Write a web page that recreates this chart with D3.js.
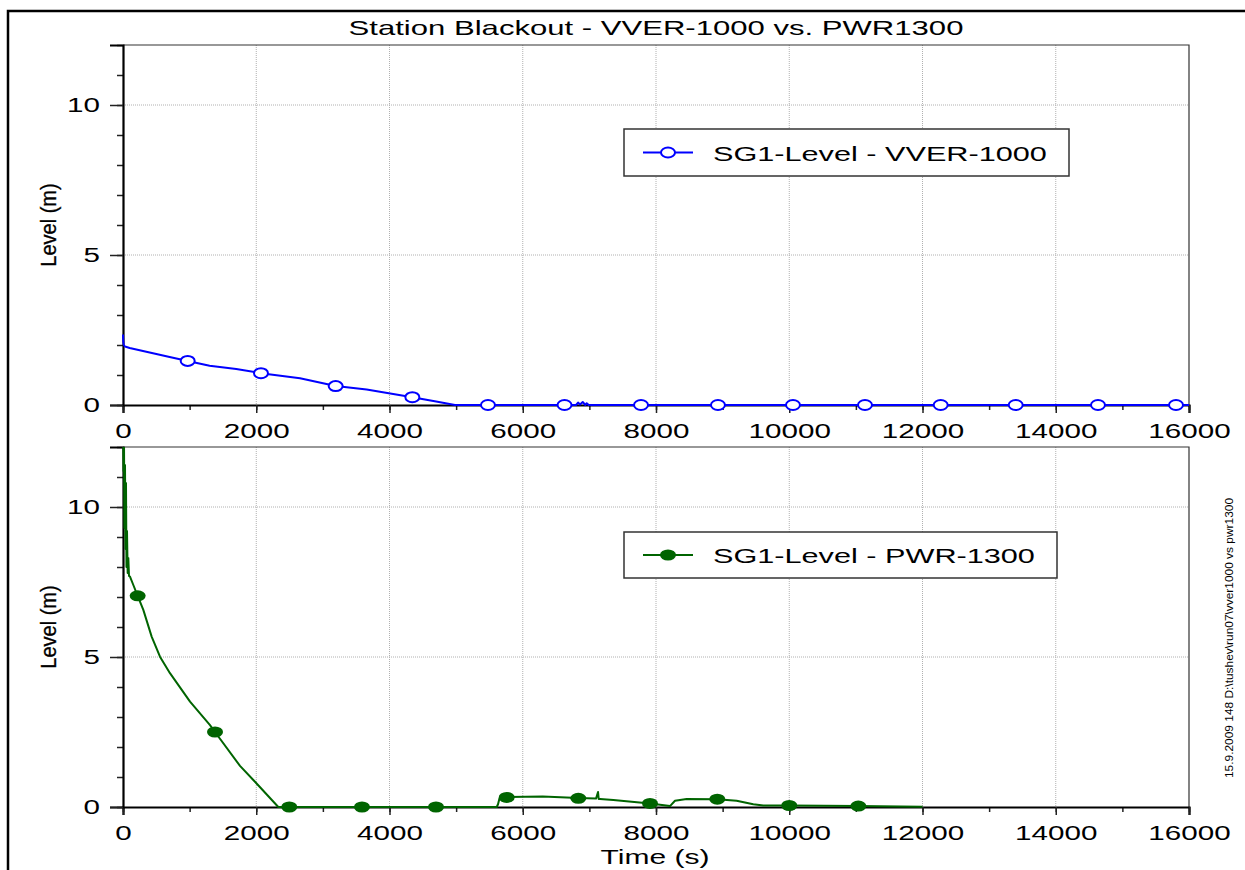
<!DOCTYPE html>
<html>
<head>
<meta charset="utf-8">
<script src="https://cdn.jsdelivr.net/npm/d3@7"></script>
<style>
  html, body { margin: 0; padding: 0; background: #fff; }
  svg { display: block; }
</style>
</head>
<body>
<svg id="chart" width="1245" height="870"></svg>
<script>
// ---- data -------------------------------------------------------------
const titleText = "Station Blackout - VVER-1000 vs. PWR1300";
const xTicksMajor = [0, 2000, 4000, 6000, 8000, 10000, 12000, 14000, 16000];
const yTicksMajor = [0, 5, 10];
const xLabel = "Time (s)";
const yLabel = "Level (m)";
const stampText = "15.9.2009   148   D:\\tushev\\run07\\vver1000 vs pwr1300";

// SG1 level, VVER-1000
const vverName = "SG1-Level - VVER-1000";
const vverTime  = [0, 5, 12, 30, 100, 400, 700, 971, 1300, 1700, 2071, 2657, 3192, 3657, 4343, 4700, 4983,
                   6800, 6830, 6860, 6900, 6940, 6960, 6990, 16000];
const vverLevel = [2.35, 2.1, 2.0, 1.95, 1.9, 1.75, 1.6, 1.47, 1.31, 1.2, 1.06, 0.89, 0.63, 0.52, 0.26, 0.12, 0,
                   0, 0.08, 0.02, 0.1, 0, 0.06, 0, 0];
const vverMarkTime  = [971, 2071, 3192, 4343, 5478, 6627, 7775, 8930, 10056, 11137, 12273, 13399, 14634, 15805];
const vverMarkLevel = [1.47, 1.06, 0.63, 0.26, 0, 0, 0, 0, 0, 0, 0, 0, 0, 0];

// SG1 level, PWR-1300
const pwrName = "SG1-Level - PWR-1300";
const pwrTime  = [0, 8, 15, 22, 30, 38, 45, 52, 60, 70, 80, 90, 105, 155, 220, 305, 430, 555, 705, 1006, 1306,
                  1381, 1756, 1981, 2331, 5610, 5630, 5650, 5700, 5759, 6300, 6834, 7100, 7130, 7140, 7160, 7360,
                  7910, 8210, 8285, 8460, 8920, 9210, 9460, 9610, 10000, 11037, 12000];
const pwrLevel = [12.6, 11.2, 12.2, 9.3, 11.4, 8.6, 10.8, 8.0, 9.2, 7.8, 8.3, 7.7, 7.68, 7.4, 7.04, 6.57, 5.68, 5.01, 4.46, 3.51, 2.73,
                  2.5, 1.37, 0.84, 0, 0, 0.1, 0.28, 0.32, 0.33, 0.35, 0.30, 0.28, 0.5, 0.27, 0.27, 0.23,
                  0.12, 0.03, 0.21, 0.27, 0.26, 0.21, 0.09, 0.05, 0.05, 0.03, 0.01];
const pwrMarkTime  = [220, 1381, 2496, 3587, 4698, 5759, 6834, 7910, 8920, 10000, 11037];
const pwrMarkLevel = [7.04, 2.5, 0, 0, 0, 0.32, 0.29, 0.12, 0.26, 0.05, 0.03];

// ---- layout / style ---------------------------------------------------
const FONT = "'Liberation Sans', Arial, Helvetica, sans-serif";
const WIDE = 1.48;          // horizontal stretch of the plotter's wide typeface
const X0 = 123, X1 = 1189;
const BLUE = "#0000ff", GREEN = "#006400";

const svg = d3.select("#chart");

// outer frame
svg.append("rect")
  .attr("x", 8).attr("y", 11).attr("width", 1300).attr("height", 900)
  .attr("fill", "none").attr("stroke", "#000").attr("stroke-width", 2.5);

function wideText(parent, x, y, str, size, sx, anchor) {
  return parent.append("text")
    .attr("transform", `translate(${x},${y}) scale(${sx},1)`)
    .attr("text-anchor", anchor || "middle")
    .attr("font-family", FONT)
    .attr("font-size", size)
    .attr("fill", "#000")
    .text(str);
}

// title
wideText(svg, 656, 35, titleText, 21, WIDE, "middle");

const x = d3.scaleLinear().domain([0, 16000]).range([X0, X1]);

function panel(top, bottom, id, time, level, markT, markL, color, filled, name, legendBox) {
  const y = d3.scaleLinear().domain([0, 12]).range([bottom, top]);
  const g = svg.append("g");

  // dotted grid
  g.append("g").selectAll("line").data(xTicksMajor.slice(1, -1)).join("line")
    .attr("x1", d => x(d)).attr("x2", d => x(d))
    .attr("y1", top).attr("y2", bottom)
    .attr("stroke", "#b0b0b0").attr("stroke-width", 1).attr("stroke-dasharray", "1,1");
  g.append("g").selectAll("line").data(yTicksMajor.slice(1)).join("line")
    .attr("x1", X0).attr("x2", X1)
    .attr("y1", d => y(d)).attr("y2", d => y(d))
    .attr("stroke", "#b0b0b0").attr("stroke-width", 1).attr("stroke-dasharray", "1,1");

  // thin top / right border
  g.append("path")
    .attr("d", `M${X0},${top}H${X1}V${bottom}`)
    .attr("fill", "none").attr("stroke", "#333").attr("stroke-width", 1.2);

  // minor ticks
  g.append("g").attr("transform", `translate(0,${bottom})`)
    .call(d3.axisBottom(x).tickValues(d3.range(0, 16001, 1000)).tickSize(5).tickFormat(""))
    .call(a => a.select(".domain").remove())
    .call(a => a.selectAll("line").attr("stroke", "#222").attr("stroke-width", 1.5));
  g.append("g").attr("transform", `translate(${X0},0)`)
    .call(d3.axisLeft(y).tickValues(d3.range(0, 13, 1)).tickSize(6).tickFormat(""))
    .call(a => a.select(".domain").remove())
    .call(a => a.selectAll("line").attr("stroke", "#222").attr("stroke-width", 1.5));

  // major x axis
  g.append("g").attr("transform", `translate(0,${bottom})`)
    .call(d3.axisBottom(x).tickValues(xTicksMajor).tickSize(8).tickPadding(11).tickFormat(d3.format("d")))
    .call(a => a.select(".domain").attr("stroke", "#000").attr("stroke-width", 2.2))
    .call(a => a.selectAll("line").attr("stroke", "#222").attr("stroke-width", 1.5))
    .call(a => a.selectAll("text")
      .attr("font-family", FONT).attr("font-size", 20).attr("fill", "#000")
      .attr("transform", `scale(${WIDE},1)`));

  // major y axis
  g.append("g").attr("transform", `translate(${X0},0)`)
    .call(d3.axisLeft(y).tickValues(yTicksMajor).tickSize(13).tickPadding(10).tickFormat(d3.format("d")))
    .call(a => a.select(".domain").attr("stroke", "#000").attr("stroke-width", 2.2))
    .call(a => a.selectAll("line").attr("stroke", "#222").attr("stroke-width", 1.5))
    .call(a => a.selectAll("text")
      .attr("font-family", FONT).attr("font-size", 20).attr("fill", "#000")
      .attr("x", -23 / WIDE)
      .attr("transform", `scale(${WIDE},1)`));

  // y axis title
  g.append("text")
    .attr("transform", `translate(56,${(top + bottom) / 2}) rotate(-90) scale(1,1.1)`)
    .attr("text-anchor", "middle")
    .attr("font-family", FONT).attr("font-size", 20).attr("fill", "#000")
    .attr("stroke", "#000").attr("stroke-width", 0.3)
    .text(yLabel);

  // series
  svg.append("clipPath").attr("id", id)
    .append("rect").attr("x", 100).attr("y", top).attr("width", 1110).attr("height", bottom - top + 30);
  const s = g.append("g").attr("clip-path", `url(#${id})`);
  const pts = time.map((t, i) => [t, level[i]]);
  s.append("path")
    .datum(pts)
    .attr("d", d3.line().x(d => x(d[0])).y(d => y(d[1])))
    .attr("fill", "none").attr("stroke", color).attr("stroke-width", 2)
    .attr("stroke-linejoin", "round");
  const marks = markT.map((t, i) => [t, markL[i]]);
  s.selectAll("ellipse").data(marks).join("ellipse")
    .attr("cx", d => x(d[0])).attr("cy", d => y(d[1]))
    .attr("rx", filled ? 8 : 7).attr("ry", filled ? 5.5 : 5)
    .attr("fill", filled ? color : "#fff")
    .attr("stroke", color).attr("stroke-width", filled ? 0 : 2);

  // legend
  const lg = g.append("g");
  lg.append("rect")
    .attr("x", legendBox.x).attr("y", legendBox.y).attr("width", legendBox.w).attr("height", legendBox.h)
    .attr("fill", "#fff").attr("stroke", "#333").attr("stroke-width", 1.5);
  const cy = legendBox.y + legendBox.h / 2;
  lg.append("line")
    .attr("x1", legendBox.x + 19).attr("x2", legendBox.x + 69)
    .attr("y1", cy).attr("y2", cy)
    .attr("stroke", color).attr("stroke-width", 2);
  lg.append("ellipse")
    .attr("cx", legendBox.x + 44).attr("cy", cy)
    .attr("rx", filled ? 8 : 7).attr("ry", filled ? 5.5 : 5)
    .attr("fill", filled ? color : "#fff")
    .attr("stroke", color).attr("stroke-width", filled ? 0 : 2);
  wideText(lg, legendBox.x + 89, cy + 8, name, 21, 1.46, "start");
}

panel(45, 405, "clipTop", vverTime, vverLevel, vverMarkTime, vverMarkLevel, BLUE, false, vverName,
      { x: 624, y: 129, w: 445, h: 47 });
panel(447, 807, "clipBot", pwrTime, pwrLevel, pwrMarkTime, pwrMarkLevel, GREEN, true, pwrName,
      { x: 624, y: 532, w: 433, h: 46 });

// x axis title
wideText(svg, 655, 864, xLabel, 20, 1.5, "middle");

// run stamp along the right edge
svg.append("text")
  .attr("transform", "translate(1233,778) rotate(-90)")
  .attr("text-anchor", "start")
  .attr("font-family", FONT).attr("font-size", 11).attr("fill", "#000")
  .attr("textLength", 280).attr("lengthAdjust", "spacingAndGlyphs")
  .text(stampText);
</script>
</body>
</html>
